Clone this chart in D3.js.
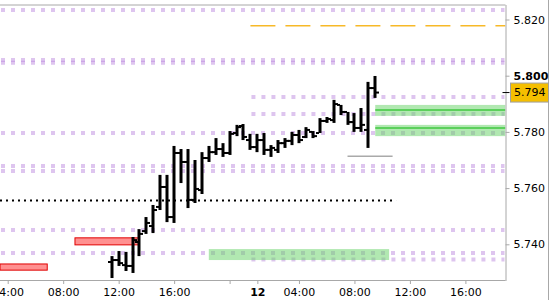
<!DOCTYPE html>
<html>
<head>
<meta charset="utf-8">
<script src="https://cdn.jsdelivr.net/npm/d3@7/dist/d3.min.js"></script>
<style>
body{margin:0;background:#fff}
svg{display:block;font-family:"DejaVu Sans",sans-serif;font-size:11px}
</style>
</head>
<body>
<div id="chart"></div>
<script>
var width = 550, height = 300

// half-hour bars, slot 0 = 11th 12:00 (night hours are skipped)
var slots = [-1,0,1,2,3,4,5,6,7,8,9,10,11,12,13,14,15,16,17,18,19,20,21,22,23,24,25,26,27,28,29,30,31,32,33,34,35,36,37]
var open  = [5.7337,5.7344,5.7326,5.7323,5.7408,5.7447,5.7465,5.7533,5.7604,5.7497,5.7725,5.7693,5.7558,5.7593,5.7707,5.7728,5.7739,5.7725,5.7796,5.7821,5.7771,5.7746,5.7771,5.7736,5.7736,5.7760,5.7768,5.7789,5.7782,5.7800,5.7796,5.7839,5.7842,5.7896,5.7871,5.7835,5.7814,5.7807,5.7956]
var high  = [5.7358,5.7376,5.7373,5.7426,5.7454,5.7497,5.7540,5.7647,5.7647,5.7750,5.7739,5.7739,5.7700,5.7728,5.7750,5.7778,5.7760,5.7803,5.7825,5.7828,5.7793,5.7793,5.7796,5.7753,5.7771,5.7778,5.7800,5.7807,5.7817,5.7803,5.7849,5.7853,5.7914,5.7896,5.7871,5.7867,5.7885,5.7978,5.7999]
var low   = [5.7280,5.7323,5.7305,5.7298,5.7358,5.7437,5.7440,5.7522,5.7479,5.7476,5.7618,5.7529,5.7547,5.7579,5.7693,5.7718,5.7711,5.7718,5.7785,5.7771,5.7736,5.7728,5.7718,5.7711,5.7725,5.7743,5.7753,5.7760,5.7778,5.7778,5.7796,5.7832,5.7832,5.7860,5.7825,5.7800,5.7800,5.7743,5.7921]
var close = [5.7344,5.7333,5.7323,5.7415,5.7437,5.7476,5.7522,5.7604,5.7497,5.7725,5.7693,5.7558,5.7597,5.7707,5.7728,5.7739,5.7725,5.7793,5.7817,5.7782,5.7746,5.7771,5.7736,5.7743,5.7760,5.7768,5.7789,5.7771,5.7807,5.7785,5.7839,5.7846,5.7899,5.7871,5.7835,5.7814,5.7825,5.7956,5.7940]

var tickSlots  = [-16,-8,0,8,16,20,26,34,42,50]
var tickLabels = ["04:00","08:00","12:00","16:00","","12","04:00","08:00","12:00","16:00"]
var priceTicks = [5.74,5.76,5.78,5.80,5.82]
var lastPrice = 5.794

// levels drawn on the chart
var dottedLevels = [5.8234,5.8056,5.8046,5.7924,5.7864,5.7796,5.7679,5.7661,5.7451,5.7369,5.7346]
var dottedFrom   = [-18,-18,-18,19,19,-18,-18,-18,-18,-18,19]
var blackLevel = 5.7556, blackTo = 40
var orangeLevel = 5.8178, orangeFrom = 19
var grayLevel = 5.7713, grayFrom = 33, grayTo = 39.5
var greenLow  = [5.7857,5.7785,5.7344]
var greenHigh = [5.7896,5.7825,5.7383]
var greenLine = [5.7878,5.7814,null]
var greenFrom = [37,37,13]
var greenTo   = [60,60,39]
var redLow  = [5.7398,5.7308]
var redHigh = [5.7423,5.7330]
var redFrom = [-6.3,-18]
var redTo   = [3,-10.3]

var plotRight = 505.5, plotTop = 5, plotBottom = 280

var x = d3.scaleLinear().domain([-16,50]).range([7.7,465.4])
var y = d3.scaleLinear().domain([5.74,5.82]).range([244.3,19.5])

var svg = d3.select("#chart").append("svg")
    .attr("width",width)
    .attr("height",height)

var plot = svg.append("g")
svg.append("clipPath").attr("id","pc").append("rect")
    .attr("x",0).attr("y",plotTop).attr("width",plotRight).attr("height",plotBottom-plotTop)
plot.attr("clip-path","url(#pc)")

function xc(s){ return Math.max(0, Math.min(plotRight, x(s))) }

// purple dotted levels
plot.selectAll(".dl").data(dottedLevels).enter().append("line")
    .attr("x1",function(d,i){ return xc(dottedFrom[i]) + 1 })
    .attr("x2",plotRight - 1)
    .attr("y1",function(d){ return y(d) })
    .attr("y2",function(d){ return y(d) })
    .attr("stroke","#b57edc")
    .attr("stroke-opacity",0.45)
    .attr("stroke-width",4)
    .attr("stroke-dasharray","4 6")

// green zones
plot.selectAll(".gz").data(greenLow).enter().append("rect")
    .attr("x",function(d,i){ return xc(greenFrom[i]) })
    .attr("width",function(d,i){ return xc(greenTo[i]) - xc(greenFrom[i]) })
    .attr("y",function(d,i){ return y(greenHigh[i]) })
    .attr("height",function(d,i){ return y(d) - y(greenHigh[i]) })
    .attr("fill","rgb(100,210,100)")
    .attr("fill-opacity",0.5)
plot.selectAll(".gl").data(greenLine.filter(function(d){ return d != null })).enter().append("line")
    .attr("x1",function(d,i){ return xc(greenFrom[i]) })
    .attr("x2",function(d,i){ return xc(greenTo[i]) })
    .attr("y1",function(d){ return y(d) })
    .attr("y2",function(d){ return y(d) })
    .attr("stroke","#3fc83f")
    .attr("stroke-width",1.5)

// red zones
plot.selectAll(".rz").data(redLow).enter().append("rect")
    .attr("x",function(d,i){ return xc(redFrom[i]) })
    .attr("width",function(d,i){ return xc(redTo[i]) - xc(redFrom[i]) })
    .attr("y",function(d,i){ return y(redHigh[i]) })
    .attr("height",function(d,i){ return y(d) - y(redHigh[i]) })
    .attr("fill","#ff9090")
    .attr("stroke","#e00000")
    .attr("stroke-width",1)

// black dotted level
plot.append("line")
    .attr("x1",0).attr("x2",x(blackTo))
    .attr("y1",y(blackLevel)).attr("y2",y(blackLevel))
    .attr("stroke","#000").attr("stroke-width",2).attr("stroke-dasharray","2 4")

// orange dashed level
plot.append("line")
    .attr("x1",x(orangeFrom)).attr("x2",plotRight)
    .attr("y1",y(orangeLevel)).attr("y2",y(orangeLevel))
    .attr("stroke","#f7b928").attr("stroke-width",1.5).attr("stroke-dasharray","25 10")

// gray level
plot.append("line")
    .attr("x1",x(grayFrom)).attr("x2",x(grayTo))
    .attr("y1",y(grayLevel)).attr("y2",y(grayLevel))
    .attr("stroke","#aaa").attr("stroke-width",1.5)

// OHLC bars
var bars = plot.selectAll(".bar").data(slots).enter().append("g")
bars.append("rect")
    .attr("x",function(d){ return Math.round(x(d)) - 1.5 })
    .attr("width",3)
    .attr("y",function(d,i){ return y(high[i]) })
    .attr("height",function(d,i){ return Math.max(1, y(low[i]) - y(high[i])) })
    .attr("fill","#000")
bars.append("rect")
    .attr("x",function(d){ return Math.round(x(d)) - 4 })
    .attr("width",3)
    .attr("y",function(d,i){ return y(open[i]) - 1 })
    .attr("height",2)
    .attr("fill","#000")
bars.append("rect")
    .attr("x",function(d){ return Math.round(x(d)) + 1 })
    .attr("width",3)
    .attr("y",function(d,i){ return y(close[i]) - 1 })
    .attr("height",2)
    .attr("fill","#000")

// frame
svg.append("line").attr("x1",0).attr("x2",plotRight).attr("y1",plotTop).attr("y2",plotTop)
    .attr("stroke","#a8a8a8")
svg.append("line").attr("x1",548.5).attr("x2",548.5).attr("y1",0).attr("y2",height)
    .attr("stroke","#a8a8a8")

// x axis
var xAxis = d3.axisBottom(x).tickValues(tickSlots).tickSize(4).tickPadding(4)
    .tickFormat(function(d,i){ return tickLabels[i] })
var gx = svg.append("g").attr("transform","translate(0," + plotBottom + ")").call(xAxis)
gx.select(".domain").attr("d","M0,0.5H" + plotRight).attr("stroke","#a8a8a8")
gx.selectAll(".tick line").attr("stroke","#a8a8a8")
gx.selectAll("text").attr("fill","#000").style("font-size","11px").style("font-family","DejaVu Sans")
gx.selectAll("text").filter(function(d,i){ return tickLabels[i] == "12" }).style("font-weight","bold")

// y axis on the right
var yAxis = d3.axisRight(y).tickValues(priceTicks).tickSize(4).tickPadding(4)
    .tickFormat(d3.format(".3f"))
var gy = svg.append("g").attr("transform","translate(" + plotRight + ",0)").call(yAxis)
gy.select(".domain").attr("d","M0.5," + plotTop + "V" + (plotBottom + 1)).attr("stroke","#a8a8a8")
gy.selectAll(".tick line").attr("stroke","#a8a8a8")
gy.selectAll("text").attr("fill","#000").style("font-size","11px").style("font-family","DejaVu Sans")
gy.selectAll("text").filter(function(d){ return Math.abs(d - 5.80) < 1e-9 }).style("font-weight","bold")

// last price marker
var ly = y(lastPrice)
svg.append("line").attr("x1",plotRight - 3).attr("x2",plotRight + 4).attr("y1",ly).attr("y2",ly)
    .attr("stroke","#000").attr("stroke-width",1)
svg.append("rect").attr("x",510.5).attr("y",ly - 9.5).attr("width",38).attr("height",19)
    .attr("fill","#f5bf00").attr("stroke","#a0a0a0")
svg.append("text").attr("x",514).attr("y",ly).attr("dy","0.35em")
    .text(d3.format(".3f")(lastPrice))
</script>
</body>
</html>
